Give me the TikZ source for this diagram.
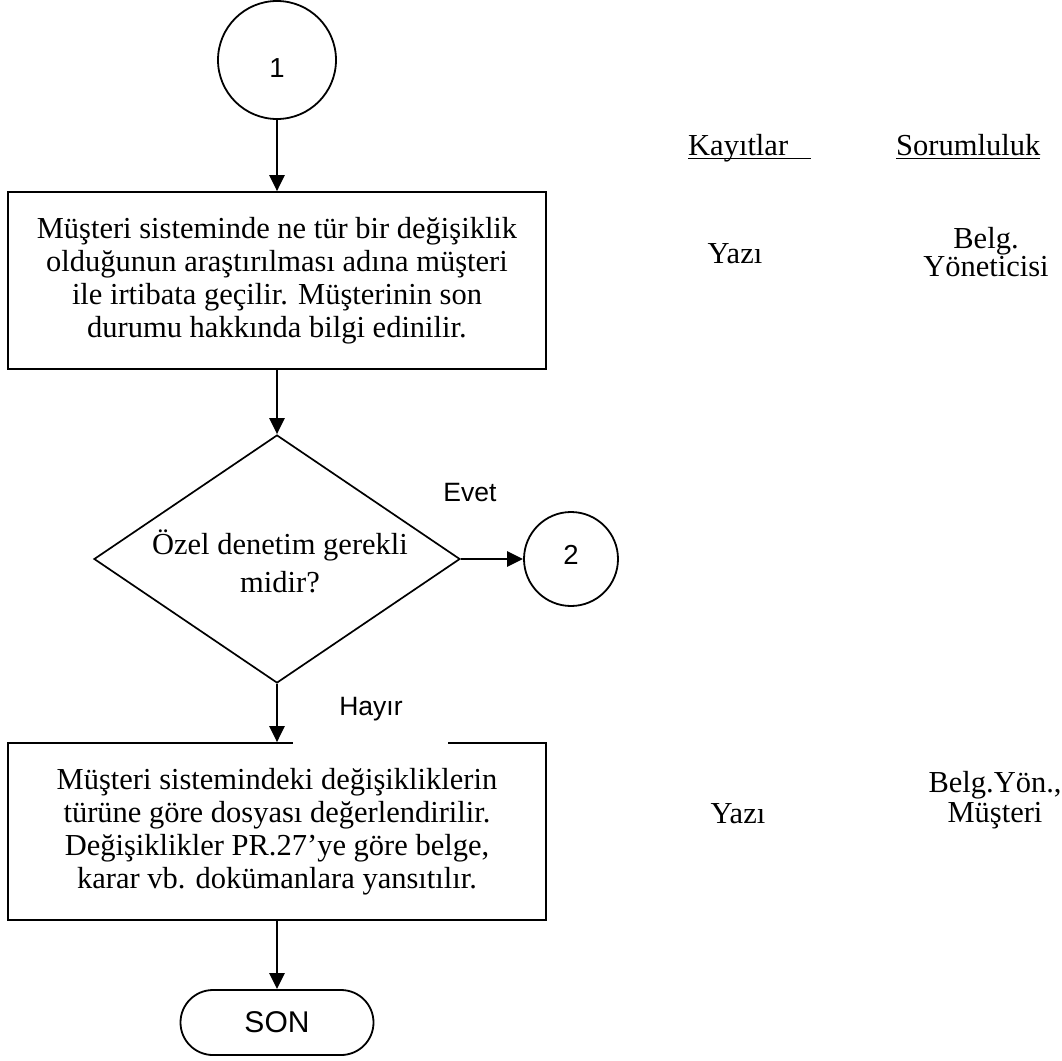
\documentclass[tikz,border=0pt]{standalone}
\usepackage{fontspec}
\setmainfont{Liberation Serif}
\newfontfamily\arialfont{Liberation Sans}
\usetikzlibrary{shapes.geometric,shapes.misc,arrows.meta}
\begin{document}
\begin{tikzpicture}[x=1pt,y=-1pt,
  serif/.style={inner sep=0pt,font=\fontsize{30.5}{33}\selectfont},
  sanslbl/.style={inner sep=0pt,font=\arialfont\fontsize{26.5}{30}\selectfont},
  procbox/.style={draw,line width=1.7pt,minimum width=538pt,minimum height=177pt,
    inner sep=0pt,align=center,font=\fontsize{30.5}{33}\selectfont},
  conn/.style={draw,circle,line width=1.8pt,inner sep=0pt,
    font=\arialfont\fontsize{27.5}{30}\selectfont},
  decision/.style={draw,diamond,line width=1.7pt,minimum width=366pt,
    minimum height=248pt,inner sep=0pt},
  terminal/.style={draw,rounded rectangle,line width=1.8pt,minimum width=193pt,
    minimum height=65pt,inner sep=0pt,font=\arialfont\fontsize{30}{32}\selectfont},
  arr/.style={line width=2.5pt,-{Triangle[length=16pt,width=15pt]}},
  uline/.style={line width=1.5pt}
]
\useasboundingbox (0,0) rectangle (1062,1060);

% flow
\node[conn,minimum size=118pt] (c1) at (277,60) {\raisebox{-17.8pt}[0pt][0pt]{1}};
\node[procbox] (b1) at (277,280.5) {Müşteri sisteminde ne tür bir değişiklik\\
  olduğunun araştırılması adına müşteri\\
  ile irtibata geçilir. Müşterinin son\\
  durumu hakkında bilgi edinilir.};
\node[decision] (d) at (277,559) {};
\node[serif,align=center,font=\fontsize{30.5}{38}\selectfont] (dt) at (280,561)
  {Özel denetim gerekli\\ midir?};
\node[conn,minimum size=94pt] (c2) at (571,559) {\raisebox{-5.6pt}[0pt][0pt]{2}};
\node[procbox] (b2) at (277,831.5) {Müşteri sistemindeki değişikliklerin\\
  türüne göre dosyası değerlendirilir.\\
  Değişiklikler PR.27’ye göre belge,\\
  karar vb. dokümanlara yansıtılır.};
\fill[white] (293,692) rectangle (448,745.5);
\node[sanslbl] (hay) at (371,709) {Hayır};
\node[sanslbl] (evet) at (470,493) {Evet};
\node[terminal] (son) at (277,1022.5) {SON};

\draw[arr] (c1) -- (b1);
\draw[arr] (b1) -- (d);
\draw[arr] (d) -- (b2);
\draw[arr] (d.east) -- (c2);
\draw[arr] (b2) -- (son);

% side columns
\node[serif,anchor=base west] (kay) at (688,155) {Kayıtlar\hspace*{23pt}};
\node[serif,anchor=base west] (sor) at (896,155) {Sorumluluk};
\draw[uline] ([yshift=-3.5pt]kay.base west) -- ([yshift=-3.5pt]kay.base east);
\draw[uline] ([yshift=-3.5pt]sor.base west) -- ([yshift=-3.5pt]sor.base east);

\node[serif,anchor=base] (y1) at (735,263) {Yazı};
\node[serif,align=center,font=\fontsize{30.5}{25}\selectfont] (r1) at (986,252)
  {Belg.\\Yöneticisi};
\node[serif,anchor=base] (y2) at (738,823) {Yazı};
\node[serif,align=center,font=\fontsize{30.5}{30}\selectfont] (r2) at (995,800)
  {Belg.Yön.,\\Müşteri};
\end{tikzpicture}
\end{document}
